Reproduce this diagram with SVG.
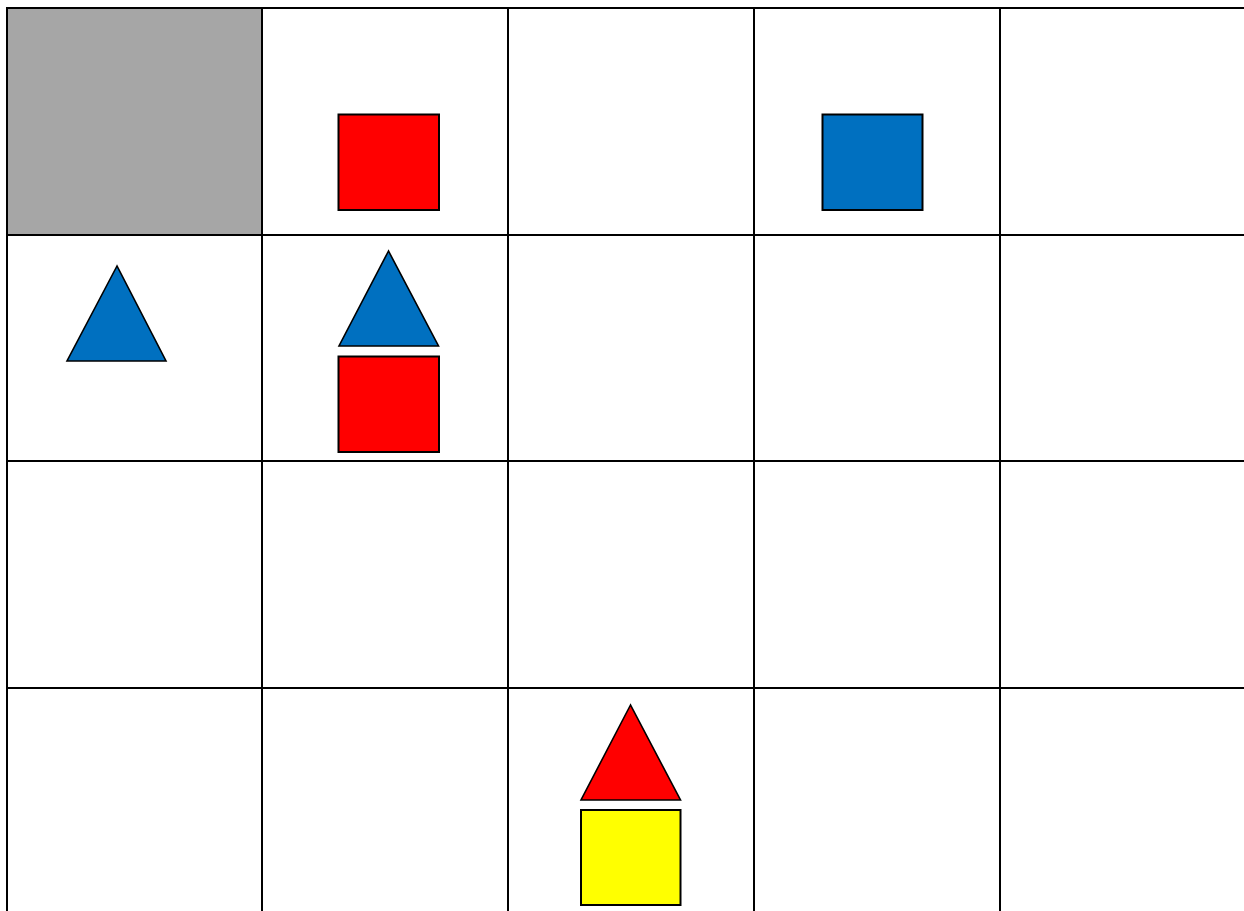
<svg xmlns="http://www.w3.org/2000/svg" width="1244" height="911" viewBox="0 0 1244 911">
<style>
.grid{stroke:#000;stroke-width:2;fill:none}
.sq{stroke:#000;stroke-width:2}
.tri{stroke:#000;stroke-width:1.6;stroke-linejoin:miter}
.red{fill:#ff0000}.blue{fill:#0070c0}.yellow{fill:#ffff00}
</style>
<rect x="0" y="0" width="1244" height="911" fill="#fff"/>
<rect id="shaded-cell" x="7" y="8" width="255" height="227" fill="#a6a6a6"/>
<g id="grid" class="grid">
<line x1="6" y1="8" x2="1244" y2="8"/>
<line x1="6" y1="235" x2="1244" y2="235"/>
<line x1="6" y1="461" x2="1244" y2="461"/>
<line x1="6" y1="688" x2="1244" y2="688"/>
<line x1="7" y1="7" x2="7" y2="911"/>
<line x1="262" y1="7" x2="262" y2="911"/>
<line x1="508" y1="7" x2="508" y2="911"/>
<line x1="754" y1="7" x2="754" y2="911"/>
<line x1="1000" y1="7" x2="1000" y2="911"/>
</g>
<g id="red-square-1"><rect class="sq red" x="338.5" y="114.5" width="100.5" height="95.5"/></g>
<g id="blue-square-1"><rect class="sq blue" x="822.5" y="114.5" width="100" height="95.5"/></g>
<g id="blue-triangle-1"><polygon class="tri blue" points="117,266 67,361 166,361"/></g>
<g id="blue-triangle-2"><polygon class="tri blue" points="388.5,251 339,346 438.5,346"/></g>
<g id="red-square-2"><rect class="sq red" x="338.5" y="356.5" width="100.5" height="95.5"/></g>
<g id="red-triangle-1"><polygon class="tri red" points="630.5,705 581,800 680.5,800"/></g>
<g id="yellow-square-1"><rect class="sq yellow" x="581" y="810" width="99.5" height="95"/></g>
</svg>
